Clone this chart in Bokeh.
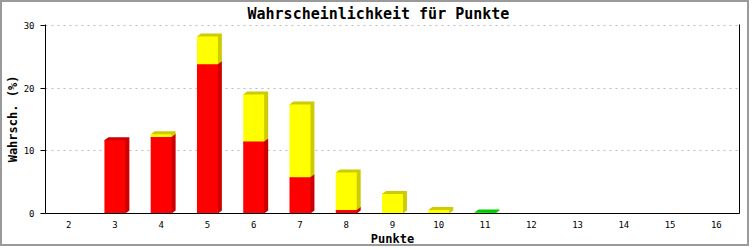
from bokeh.plotting import figure
from bokeh.models import Range1d, FixedTicker, LinearAxis
from bokeh.embed import file_html
from bokeh.resources import INLINE

# ---- data ----
punkte = [2, 3, 4, 5, 6, 7, 8, 9, 10, 11, 12, 13, 14, 15, 16]
rot = [0, 11.7, 12.2, 23.8, 11.5, 5.8, 0.56, 0, 0, 0, 0, 0, 0, 0, 0]
gelb = [0, 0, 0.45, 4.45, 7.5, 11.6, 6.0, 3.1, 0.55, 0.05, 0, 0, 0, 0, 0]
gruen = [0, 0, 0, 0, 0, 0, 0, 0, 0, 0.12, 0, 0, 0, 0, 0]
y_ticks = [0, 10, 20, 30]

series = [
    (rot, "#ff0000", "#cc0000"),
    (gelb, "#ffff00", "#cccc00"),
    (gruen, "#00ff00", "#00cc00"),
]

# ---- geometry (styles) ----
W, H = 749, 246
FL, FR, FT, FB = 41, 737, 22, 212  # frame edges in canvas px
x0r, x1r = punkte[0] - 0.5, punkte[-1] + 0.5
y0r, y1r = 0, 30.15
px_x = (FR - FL) / (x1r - x0r)
px_y = (FB - FT) / (y1r - y0r)
half_w = 10.5 / px_x
dx = 4 / px_x
dy = 3 / px_y
MONO = "DejaVu Sans Mono"

p = figure(width=W, height=H, output_backend="svg", toolbar_location=None,
           x_range=Range1d(x0r, x1r), y_range=Range1d(y0r, y1r),
           min_border_left=FL, min_border_right=W - FR,
           min_border_top=FT, min_border_bottom=H - FB,
           title="Wahrscheinlichkeit für Punkte")
p.styles = {"border": "2px solid #9a9a9a"}
p.outline_line_color = None
p.background_fill_color = "white"
p.border_fill_color = "white"

p.title.align = "left"
p.title.offset = 202
p.title.vertical_align = "top"
p.title.text_font = MONO
p.title.text_font_style = "bold"
p.title.text_font_size = "15px"
p.title.text_color = "black"
p.title.standoff = 0

# bars with 3D effect
for ci, cat in enumerate(punkte):
    base = 0.0
    for vals, front, dark in series:
        v = vals[ci]
        if v <= 0:
            continue
        xa, xb = cat - half_w, cat + half_w
        ya, yb = base, base + v
        p.patch([xa, xa + dx, xb + dx, xb + dx, xb],
                [yb, yb + dy, yb + dy, ya + dy, ya],
                fill_color=dark, line_color=None)
        p.quad(left=[xa], right=[xb], bottom=[ya], top=[yb],
               fill_color=front, line_color=None)
        base = yb

# axes
xa_ = p.xaxis[0]
xa_.ticker = FixedTicker(ticks=punkte)
xa_.axis_label = "Punkte"
xa_.major_tick_out = 0
xa_.major_tick_in = 0
xa_.minor_tick_out = 0
xa_.minor_tick_in = 0
xa_.major_label_standoff = 7
xa_.axis_label_standoff = 1
ya_ = p.yaxis[0]
ya_.ticker = FixedTicker(ticks=y_ticks)
ya_.axis_label = "Wahrsch. (%)"
ya_.major_tick_out = 5
ya_.major_tick_in = 0
ya_.minor_tick_out = 0
ya_.minor_tick_in = 0
ya_.major_label_standoff = 6
ya_.axis_label_standoff = 1
for ax in (xa_, ya_):
    ax.axis_line_color = "black"
    ax.axis_line_width = 1
    ax.minor_tick_line_color = None
    ax.major_tick_line_color = "black" if ax is ya_ else None
    ax.major_label_text_font = MONO
    ax.major_label_text_font_size = "9px"
    ax.major_label_text_color = "black"
    ax.axis_label_text_font = MONO
    ax.axis_label_text_font_size = "12px"
    ax.axis_label_text_font_style = "bold"
    ax.axis_label_text_color = "black"

right = LinearAxis(ticker=FixedTicker(ticks=[]), axis_line_color="black",
                   major_tick_line_color=None, minor_tick_line_color=None,
                   major_tick_out=0, minor_tick_out=0,
                   major_label_text_font_size="0px")
p.add_layout(right, "right")

p.xgrid.grid_line_color = None
p.ygrid.ticker = FixedTicker(ticks=y_ticks[1:])
p.ygrid.grid_line_color = "#bbbbbb"
p.ygrid.grid_line_dash = "2 4"

open("out.html", "w").write(file_html(p, INLINE))
